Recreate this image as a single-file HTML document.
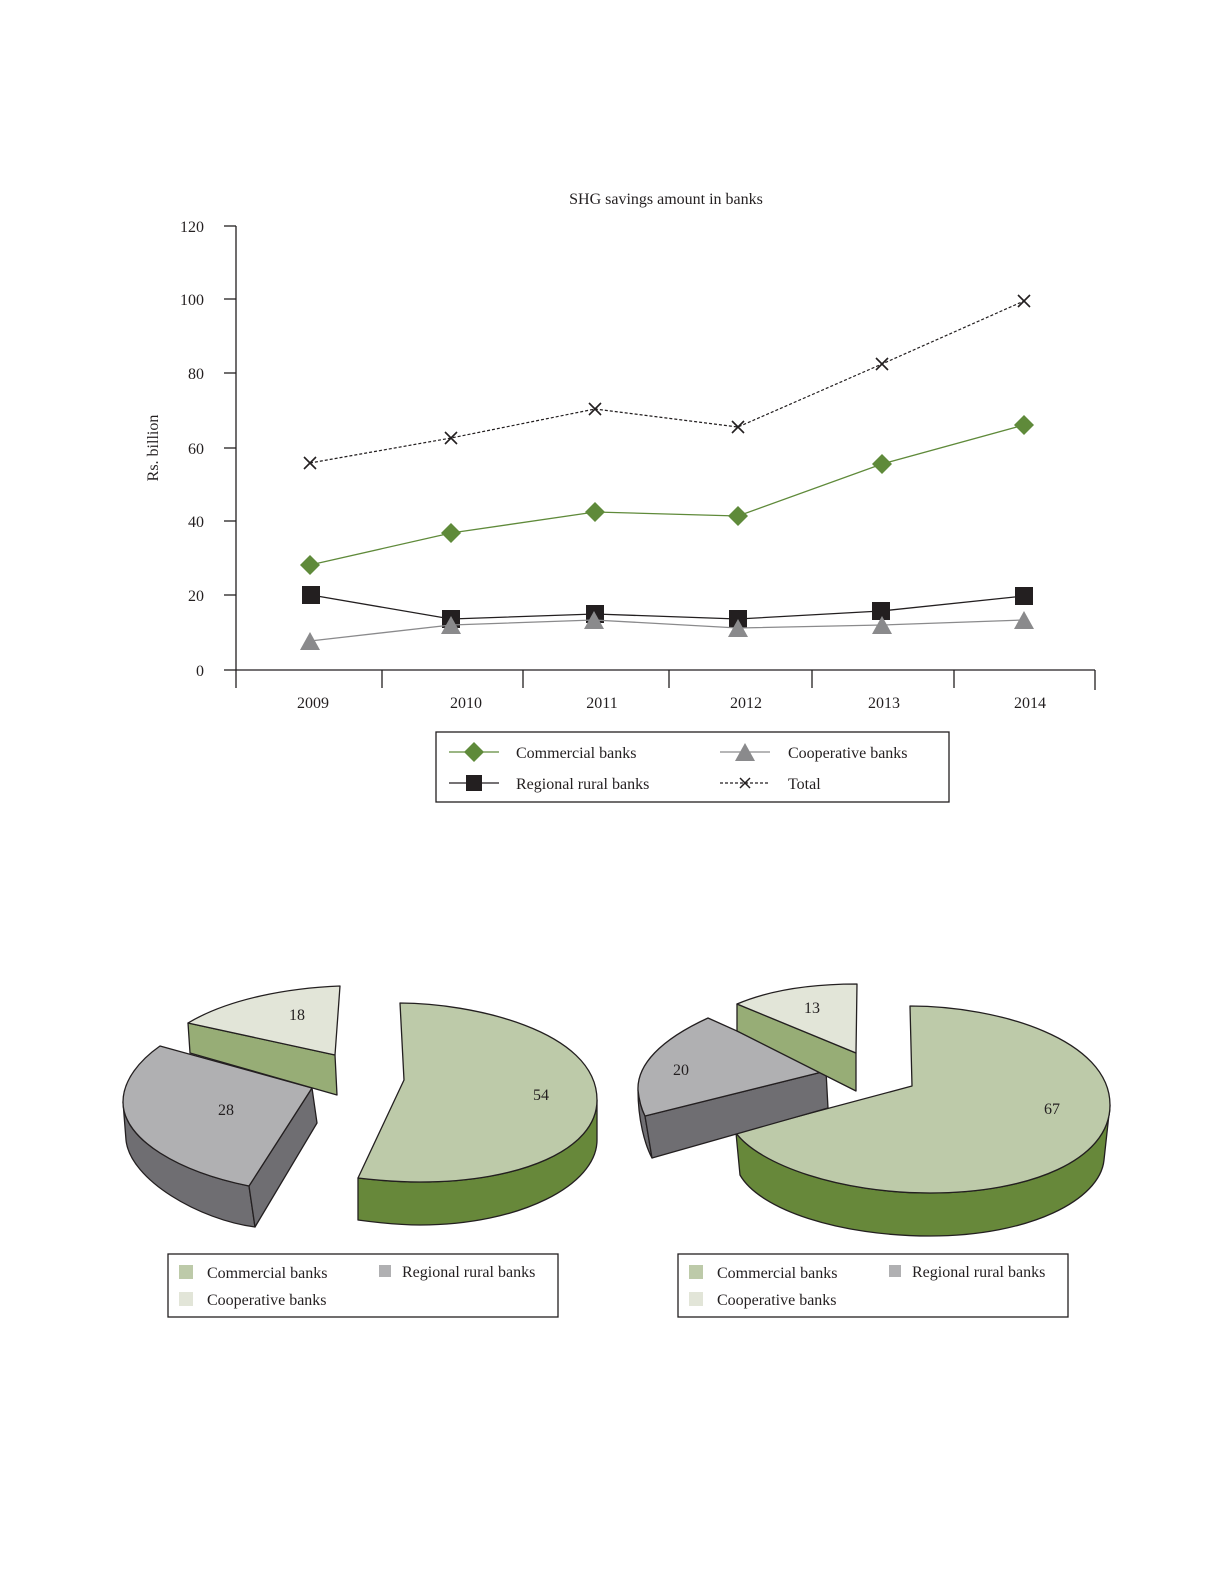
<!DOCTYPE html>
<html><head><meta charset="utf-8"><style>
body{margin:0;background:#fff}
svg{display:block}
text{font-family:"Liberation Serif",serif;fill:#231f20}
</style></head><body>
<svg width="1228" height="1589" viewBox="0 0 1228 1589" xmlns="http://www.w3.org/2000/svg">
<text x="666" y="204" font-size="16" text-anchor="middle">SHG savings amount in banks</text>
<text transform="translate(158,448) rotate(-90)" font-size="16" text-anchor="middle">Rs. billion</text>
<g stroke="#231f20" stroke-width="1.3" fill="none">
<line x1="236" y1="226" x2="236" y2="688"/>
<line x1="236" y1="670" x2="1095" y2="670"/>
<line x1="224" y1="226" x2="236" y2="226"/><line x1="224" y1="299" x2="236" y2="299"/>
<line x1="224" y1="373" x2="236" y2="373"/><line x1="224" y1="448" x2="236" y2="448"/>
<line x1="224" y1="521" x2="236" y2="521"/><line x1="224" y1="595" x2="236" y2="595"/>
<line x1="224" y1="670" x2="236" y2="670"/>
<line x1="382" y1="670" x2="382" y2="688"/><line x1="523" y1="670" x2="523" y2="688"/>
<line x1="669" y1="670" x2="669" y2="688"/><line x1="812" y1="670" x2="812" y2="688"/>
<line x1="954" y1="670" x2="954" y2="688"/><line x1="1095" y1="670" x2="1095" y2="690"/>
</g>
<g font-size="16" text-anchor="end">
<text x="204" y="232">120</text><text x="204" y="305">100</text><text x="204" y="379">80</text>
<text x="204" y="454">60</text><text x="204" y="527">40</text><text x="204" y="601">20</text><text x="204" y="676">0</text>
</g>
<g font-size="16" text-anchor="middle">
<text x="313" y="708">2009</text><text x="466" y="708">2010</text><text x="602" y="708">2011</text>
<text x="746" y="708">2012</text><text x="884" y="708">2013</text><text x="1030" y="708">2014</text>
</g>
<polyline points="310,463 451,438 595,409 738,427 882,364 1024,301" fill="none" stroke="#231f20" stroke-width="1.2" stroke-dasharray="3,2"/>
<g stroke="#231f20" stroke-width="1.6">
<path d="M304,457l12,12M316,457l-12,12M445,432l12,12M457,432l-12,12M589,403l12,12M601,403l-12,12M732,421l12,12M744,421l-12,12M876,358l12,12M888,358l-12,12M1018,295l12,12M1030,295l-12,12"/>
</g>
<polyline points="310,565 451,533 595,512 738,516 882,464 1024,425" fill="none" stroke="#5f8a3a" stroke-width="1.3"/>
<g fill="#5f8a3a">
<path d="M310,555l10,10l-10,10l-10,-10z"/><path d="M451,523l10,10l-10,10l-10,-10z"/><path d="M595,502l10,10l-10,10l-10,-10z"/>
<path d="M738,506l10,10l-10,10l-10,-10z"/><path d="M882,454l10,10l-10,10l-10,-10z"/><path d="M1024,415l10,10l-10,10l-10,-10z"/>
</g>
<polyline points="311,595 451,619 595,614 738,619 881,611 1024,596" fill="none" stroke="#231f20" stroke-width="1.3"/>
<g fill="#231f20">
<rect x="302" y="586" width="18" height="18"/><rect x="442" y="610" width="18" height="18"/><rect x="586" y="605" width="18" height="18"/>
<rect x="729" y="610" width="18" height="18"/><rect x="872" y="602" width="18" height="18"/><rect x="1015" y="587" width="18" height="18"/>
</g>
<polyline points="310,641 451,625 594,620 738,628 882,625 1024,620" fill="none" stroke="#8a8a8c" stroke-width="1.3"/>
<g fill="#8a8a8c">
<path d="M310,632l10,18h-20z"/><path d="M451,616l10,18h-20z"/><path d="M594,611l10,18h-20z"/>
<path d="M738,619l10,18h-20z"/><path d="M882,616l10,18h-20z"/><path d="M1024,611l10,18h-20z"/>
</g>
<rect x="436" y="732" width="513" height="70" fill="none" stroke="#231f20" stroke-width="1.3"/>
<line x1="449" y1="752" x2="499" y2="752" stroke="#5f8a3a" stroke-width="1.3"/><path d="M474,742l10,10l-10,10l-10,-10z" fill="#5f8a3a"/>
<text x="516" y="758" font-size="16">Commercial banks</text>
<line x1="720" y1="752" x2="770" y2="752" stroke="#8a8a8c" stroke-width="1.3"/><path d="M745,743l10,18h-20z" fill="#8a8a8c"/>
<text x="788" y="758" font-size="16">Cooperative banks</text>
<line x1="449" y1="783" x2="499" y2="783" stroke="#231f20" stroke-width="1.3"/><rect x="466" y="775" width="16" height="16" fill="#231f20"/>
<text x="516" y="789" font-size="16">Regional rural banks</text>
<line x1="720" y1="783" x2="770" y2="783" stroke="#231f20" stroke-width="1.2" stroke-dasharray="3,2"/>
<path d="M740,778l10,10M750,778l-10,10" stroke="#231f20" stroke-width="1.5"/>
<text x="788" y="789" font-size="16">Total</text>

<g stroke="#231f20" stroke-width="1.3" stroke-linejoin="round">
<path d="M358,1178 L358,1220 C380,1223 400,1225 420,1225 C520,1225 597,1185 597,1140 L597,1100 C597,1150 520,1182 420,1182 C395,1182 375,1180 358,1178 Z" fill="#67883a"/>
<path d="M404,1080 L400,1003 C470,1003 597,1030 597,1100 C597,1150 520,1182 420,1182 C395,1182 375,1180 358,1178 Z" fill="#bdcaa9"/>
<path d="M123,1102 L126,1140 C130,1180 200,1220 255,1227 L249,1186 C180,1172 123,1140 123,1102Z" fill="#6f6e72"/>
<path d="M249,1186 L312,1088 L317,1123 L255,1227 Z" fill="#6f6e72"/>
<path d="M312,1088 L160,1046 C140,1060 123,1080 123,1102 C123,1140 180,1172 249,1186 Z" fill="#b0b0b2"/>
<path d="M188,1023 L335,1055 L337,1095 L190,1053 Z" fill="#97ad76"/>
<path d="M335,1055 L188,1023 C230,998 290,988 340,986 Z" fill="#e2e5d8"/>

<path d="M736,1133 L740,1175 C760,1210 840,1236 930,1236 C1030,1236 1100,1200 1104,1160 L1110,1105 C1110,1160 1030,1193 930,1193 C840,1193 760,1165 736,1133Z" fill="#67883a"/>
<path d="M912,1086 L910,1006 C1000,1006 1110,1040 1110,1105 C1110,1160 1030,1193 930,1193 C840,1193 760,1165 736,1133 Z" fill="#bdcaa9"/>
<path d="M638,1090 C638,1120 645,1145 652,1158 L645,1116 C642,1110 639,1100 638,1090Z" fill="#6f6e72"/>
<path d="M645,1116 L652,1158 L828,1108 L826,1071 Z" fill="#6f6e72"/>
<path d="M826,1071 L708,1018 C660,1040 637,1065 638,1090 C639,1100 642,1110 645,1116 Z" fill="#b0b0b2"/>
<path d="M737,1004 L856,1053 L856,1091 L737,1031 Z" fill="#97ad76"/>
<path d="M856,1053 L737,1004 C770,990 810,984 857,984 Z" fill="#e2e5d8"/>
</g>
<g font-size="16" text-anchor="middle">
<text x="297" y="1020">18</text><text x="226" y="1115">28</text><text x="541" y="1100">54</text>
<text x="812" y="1013">13</text><text x="681" y="1075">20</text><text x="1052" y="1114">67</text>
</g>

<g font-size="16">
<rect x="168" y="1254" width="390" height="63" fill="none" stroke="#231f20" stroke-width="1.3"/>
<rect x="179" y="1265" width="14" height="14" fill="#bdcaa9"/><text x="207" y="1278">Commercial banks</text>
<rect x="379" y="1265" width="12" height="12" fill="#b0b0b2"/><text x="402" y="1277">Regional rural banks</text>
<rect x="179" y="1292" width="14" height="14" fill="#e2e5d8"/><text x="207" y="1305">Cooperative banks</text>
<rect x="678" y="1254" width="390" height="63" fill="none" stroke="#231f20" stroke-width="1.3"/>
<rect x="689" y="1265" width="14" height="14" fill="#bdcaa9"/><text x="717" y="1278">Commercial banks</text>
<rect x="889" y="1265" width="12" height="12" fill="#b0b0b2"/><text x="912" y="1277">Regional rural banks</text>
<rect x="689" y="1292" width="14" height="14" fill="#e2e5d8"/><text x="717" y="1305">Cooperative banks</text>
</g>
</svg>
</body></html>
